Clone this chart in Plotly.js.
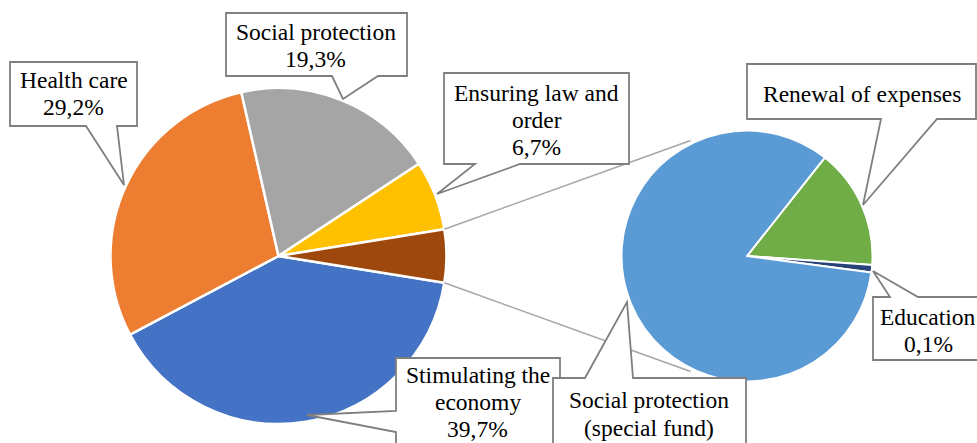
<!DOCTYPE html>
<html>
<head>
<meta charset="utf-8">
<script src="https://cdn.plot.ly/plotly-3.0.1.min.js"></script>
<style>
html,body{margin:0;padding:0;background:#fff;}
#chart{width:977px;height:443px;}
</style>
</head>
<body>
<div id="chart"></div>
<script>
// ---- data ----
var mainLabels = ["Stimulating the economy", "Health care", "Social protection", "Ensuring law and order", "Other"];
var mainValues = [39.7, 29.2, 19.3, 6.7, 5.1];
var mainColors = ["#4472C4", "#ED7D31", "#A5A5A5", "#FFC000", "#9E480E"];

var subLabels = ["Renewal of expenses", "Education", "Social protection (special fund)"];
var subValues = [0.79, 0.05, 4.26];
var subColors = ["#70AD47", "#264478", "#5B9BD5"];

// callout texts (lines)
var calloutText = {
  health: ["Health care", "29,2%"],
  social: ["Social protection", "19,3%"],
  law: ["Ensuring law and", "order", "6,7%"],
  econ: ["Stimulating the", "economy", "39,7%"],
  renewal: ["Renewal of expenses"],
  education: ["Education", "0,1%"],
  fund: ["Social protection", "(special fund)"]
};

// ---- layout geometry (pixels) ----
var W = 977, H = 443;
var L = {cx: 278.5, cy: 256, r: 168};
var R = {cx: 747, cy: 256, r: 125.5};
function px(x){ return x / W; }
function py(y){ return 1 - y / H; }
function dom(p){
  return {x: [px(p.cx - p.r), px(p.cx + p.r)], y: [py(p.cy + p.r), py(p.cy - p.r)]};
}

var totalMain = mainValues.reduce(function(a,b){return a+b;}, 0);
var otherFrac = mainValues[mainValues.length - 1] / totalMain;
var mainRotation = 90 + otherFrac * 180;

var traces = [
  {
    type: "pie", labels: mainLabels, values: mainValues, sort: false,
    direction: "clockwise", rotation: mainRotation,
    marker: {colors: mainColors, line: {color: "#ffffff", width: 2.5}},
    textinfo: "none", hoverinfo: "label+percent", showlegend: false,
    domain: dom(L)
  },
  {
    type: "pie", labels: subLabels, values: subValues, sort: false,
    direction: "clockwise", rotation: 38.3,
    marker: {colors: subColors, line: {color: "#ffffff", width: 2}},
    textinfo: "none", hoverinfo: "label+value", showlegend: false,
    domain: dom(R)
  }
];

// connector lines: from edges of the "Other" wedge to the second pie
var halfAng = otherFrac * Math.PI; // half of wedge angle
var a1 = Math.PI/2 - halfAng, a2 = Math.PI/2 + halfAng;
var p1 = [L.cx + L.r * Math.sin(a1), L.cy - L.r * Math.cos(a1)];
var p2 = [L.cx + L.r * Math.sin(a2), L.cy - L.r * Math.cos(a2)];
var tAng = 26 * Math.PI / 180, rr = R.r * 1.025;
var q1 = [R.cx - rr * Math.sin(tAng), R.cy - rr * Math.cos(tAng)];
var q2 = [R.cx - rr * Math.sin(tAng), R.cy + rr * Math.cos(tAng)];

var shapes = [];
function line(a, b){
  shapes.push({type: "line", xref: "paper", yref: "paper",
    x0: px(a[0]), y0: py(a[1]), x1: px(b[0]), y1: py(b[1]),
    line: {color: "#A6A6A6", width: 1.6}, layer: "above"});
}
line(p1, q1);
line(p2, q2);

function pathFrom(pts){
  return "M" + pts.map(function(p){ return px(p[0]).toFixed(5) + "," + py(p[1]).toFixed(5); }).join(" L") + " Z";
}
// box: [x0,y0,x1,y1]; side: bottom/top/left; base: [b0,b1]; tip: [x,y]
function callout(box, side, base, tip){
  var x0 = box[0], y0 = box[1], x1 = box[2], y1 = box[3], pts;
  if (side === "bottom") {
    pts = [[x0,y0],[x1,y0],[x1,y1],[base[1],y1],tip,[base[0],y1],[x0,y1]];
  } else if (side === "top") {
    pts = [[x0,y0],[base[0],y0],tip,[base[1],y0],[x1,y0],[x1,y1],[x0,y1]];
  } else {
    pts = [[x0,y0],[x1,y0],[x1,y1],[x0,y1],[x0,base[1]],tip,[x0,base[0]]];
  }
  shapes.push({type: "path", xref: "paper", yref: "paper", path: pathFrom(pts),
    fillcolor: "#ffffff", line: {color: "#7F7F7F", width: 1.8}, layer: "above"});
}

callout([10, 62, 137, 126], "bottom", [86, 117], [124, 185]);
callout([226, 13, 407, 76], "bottom", [332, 378], [343, 99]);
callout([444, 73, 629, 164], "bottom", [475, 520], [437, 194]);
callout([747, 64, 976, 119], "bottom", [881, 937], [863, 205]);
callout([873, 297, 995, 360], "top", [890, 918], [873, 271]);
callout([396, 358, 560, 470], "left", [411, 432], [307, 415]);
callout([553, 378, 746, 470], "top", [585, 633], [627, 302]);

var FS = 23.5;
var FONT = "Times New Roman, Liberation Serif, Tinos, Noto Serif, DejaVu Serif, serif";
var annotations = [];
function textLines(lines, cx, baselines){
  lines.forEach(function(t, i){
    annotations.push({xref: "paper", yref: "paper", x: px(cx), y: py(baselines[i] - 0.34 * FS),
      xanchor: "center", yanchor: "middle", showarrow: false, text: t,
      font: {family: FONT, size: FS, color: "#000000"}});
  });
}
textLines(calloutText.health, 73.5, [88, 115]);
textLines(calloutText.social, 315.5, [39.5, 66.5]);
textLines(calloutText.law, 536.5, [101, 128, 155]);
textLines(calloutText.renewal, 861.5, [101.5]);
textLines(calloutText.education, 928, [325, 352]);
textLines(calloutText.econ, 477.5, [383, 410, 437]);
textLines(calloutText.fund, 649, [408, 436]);

var layout = {
  width: W, height: H,
  margin: {l: 0, r: 0, t: 0, b: 0},
  paper_bgcolor: "#ffffff",
  font: {family: FONT},
  showlegend: false,
  shapes: shapes,
  annotations: annotations
};

Plotly.newPlot("chart", traces, layout, {displayModeBar: false, staticPlot: true});
</script>
</body>
</html>
